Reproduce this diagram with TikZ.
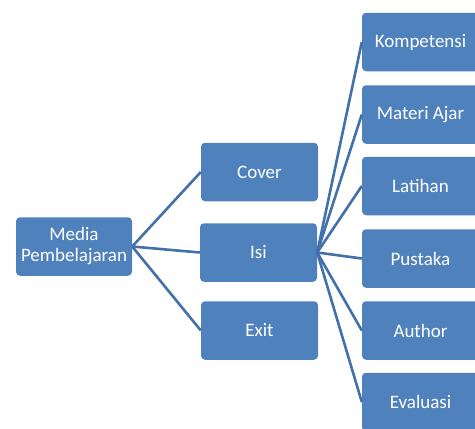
\documentclass[tikz,border=0pt]{standalone}
\usepackage{fontspec}
\setmainfont{Carlito}
\definecolor{boxblue}{RGB}{79,129,189}
\definecolor{lineblue}{RGB}{66,112,170}
\begin{document}
\begin{tikzpicture}[x=1pt,y=-1pt,
  box/.style={draw=none,fill=boxblue,rounded corners=4pt,minimum width=117pt,minimum height=58.5pt,
    text=white,font=\fontsize{19}{21}\selectfont,align=center,inner sep=0pt},
  conn/.style={draw=lineblue,line width=2.6pt}]
\useasboundingbox (0,0) rectangle (475,429);
\node[box,minimum width=116pt] (media) at (74,246.5) {Media\\Pembelajaran};
\node[box] (cover) at (259.5,172) {Cover};
\node[box] (isi) at (258.5,252.5) {Isi};
\node[box] (exit) at (259.5,330.5) {Exit};
\node[box] (komp) at (420.5,42) {Kompetensi};
\node[box] (materi) at (420.5,114.5) {Materi Ajar};
\node[box] (latihan) at (420.5,186) {Latihan};
\node[box] (pustaka) at (420.5,258.5) {Pustaka};
\node[box] (author) at (420.5,330.5) {Author};
\node[box] (eval) at (420.5,402) {Evaluasi};
\foreach \t in {cover,isi,exit} \draw[conn] (media.east) -- (\t.west);
\foreach \t in {komp,materi,latihan,pustaka,author,eval} \draw[conn] (isi.east) -- (\t.west);
\end{tikzpicture}
\end{document}
